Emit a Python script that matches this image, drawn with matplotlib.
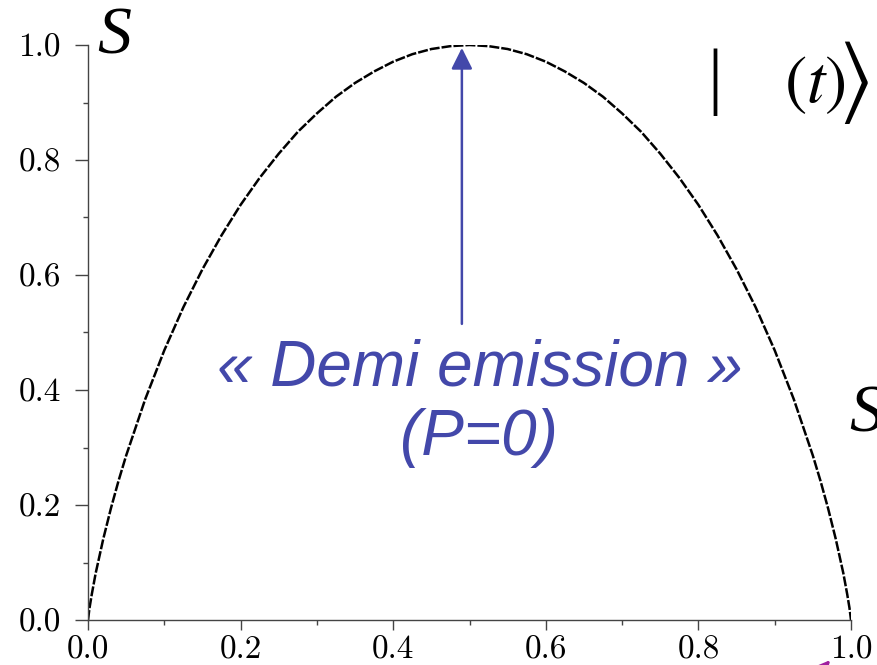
import matplotlib
matplotlib.use("Agg")
from matplotlib import pyplot as plt
from matplotlib.ticker import MultipleLocator, FormatStrFormatter

# entropy S
p_vals = [0, 0.002, 0.005, 0.01, 0.02, 0.03, 0.04, 0.05, 0.075, 0.1, 0.125, 0.15,
          0.175, 0.2, 0.225, 0.25, 0.275, 0.3, 0.325, 0.35, 0.375, 0.4, 0.425, 0.45,
          0.475, 0.5, 0.525, 0.55, 0.575, 0.6, 0.625, 0.65, 0.675, 0.7, 0.725, 0.75,
          0.775, 0.8, 0.825, 0.85, 0.875, 0.9, 0.925, 0.95, 0.96, 0.97, 0.98, 0.99,
          0.995, 0.998, 1.0]
s_vals = [0, 0.021, 0.045, 0.081, 0.141, 0.194, 0.242, 0.286, 0.384, 0.469, 0.544,
          0.610, 0.669, 0.722, 0.769, 0.811, 0.849, 0.881, 0.910, 0.934, 0.954,
          0.971, 0.984, 0.993, 0.998, 1.0, 0.998, 0.993, 0.984, 0.971, 0.954, 0.934,
          0.910, 0.881, 0.849, 0.811, 0.769, 0.722, 0.669, 0.610, 0.544, 0.469,
          0.384, 0.286, 0.242, 0.194, 0.141, 0.081, 0.045, 0.021, 0]

ticks = [0.0, 0.2, 0.4, 0.6, 0.8, 1.0]
arrow_x = 0.49
blue = "#4348AA"

plt.rcParams['font.family'] = 'serif'
plt.rcParams['font.serif'] = ['cmr10', 'DejaVu Serif']
plt.rcParams['axes.formatter.use_mathtext'] = True
plt.rcParams['mathtext.fontset'] = 'stix'

W, H = 877, 665
fig = plt.figure(figsize=(W / 100, H / 100), dpi=100)
ax = fig.add_axes([88 / W, 45 / H, 763 / W, 575 / H])

ax.plot(p_vals, s_vals, color="black", lw=1.8, linestyle=(0, (4, 0.8)))

ax.set_xlim(0, 1)
ax.set_ylim(0, 1)
ax.set_xticks(ticks)
ax.set_yticks(ticks)
ax.xaxis.set_minor_locator(MultipleLocator(0.1))
ax.yaxis.set_minor_locator(MultipleLocator(0.1))
ax.xaxis.set_major_formatter(FormatStrFormatter('%.1f'))
ax.yaxis.set_major_formatter(FormatStrFormatter('%.1f'))
ax.tick_params(axis='x', which='major', length=7, width=1, pad=4, labelsize=24, color="#444444")
ax.tick_params(axis='x', which='minor', length=3.5, width=1, color="#444444")
ax.tick_params(axis='y', which='major', length=9.5, width=1, pad=10, labelsize=24, color="#444444")
ax.tick_params(axis='y', which='minor', length=3.5, width=1, color="#444444")
for side in ['top', 'right']:
    ax.spines[side].set_visible(False)
for side in ['left', 'bottom']:
    ax.spines[side].set_color("#444444")
    ax.spines[side].set_linewidth(1)

# arrow to the maximum
ax.annotate("", xy=(arrow_x, 0.995), xytext=(arrow_x, 0.515),
            arrowprops=dict(arrowstyle="-|>", color=blue, lw=1.8,
                            mutation_scale=32, shrinkA=0, shrinkB=0))

def fx(px):
    return px / W

def fy(py):
    return 1 - py / H

fig.text(fx(480), fy(386), "« Demi emission »", color=blue, fontsize=46,
         family="Liberation Sans", style="italic", ha="center", va="baseline")
fig.text(fx(479), fy(455), "(P=0)", color=blue, fontsize=46,
         family="Liberation Sans", style="italic", ha="center", va="baseline")

fig.text(fx(97), fy(53), "S", fontsize=49, family="Liberation Serif",
         style="italic", ha="left", va="baseline")
fig.text(fx(849), fy(431), "S", fontsize=49, family="Liberation Serif",
         style="italic", ha="left", va="baseline")

fig.text(fx(715), fy(82), "|", fontsize=54, family="Liberation Serif",
         ha="center", va="center")
fig.text(fx(784), fy(102), r"$(t)$", fontsize=48, ha="left", va="baseline")
fig.text(fx(838), fy(82), r"$\rangle$", fontsize=64, ha="left", va="center")

# purple arrow tip at the lower right edge
fig.add_artist(matplotlib.patches.FancyArrowPatch(
    (fx(770), fy(730)), (fx(832), fy(658)), transform=fig.transFigure,
    arrowstyle="-|>", mutation_scale=30, color="#A0209F", lw=2))

fig.savefig("out.png", dpi=100)
